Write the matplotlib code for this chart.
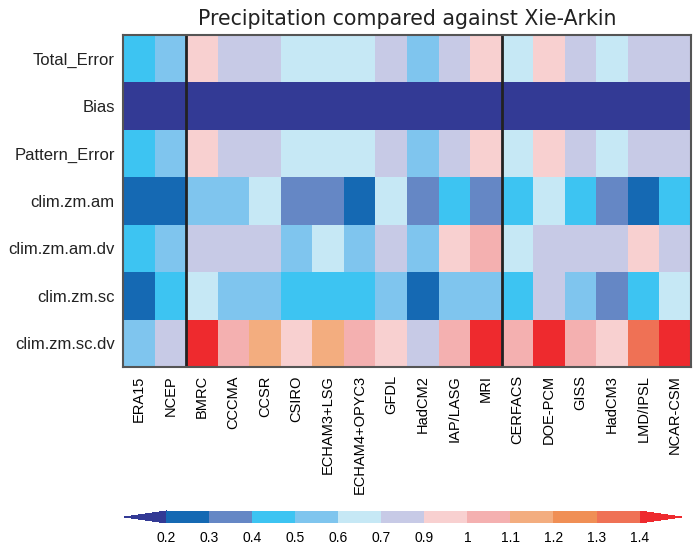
import numpy as np
import matplotlib
matplotlib.use("Agg")
import matplotlib.pyplot as plt
from matplotlib.colors import ListedColormap, BoundaryNorm
from matplotlib.colorbar import ColorbarBase

models = ["ERA15", "NCEP", "BMRC", "CCCMA", "CCSR", "CSIRO", "ECHAM3+LSG",
          "ECHAM4+OPYC3", "GFDL", "HadCM2", "IAP/LASG", "MRI", "CERFACS",
          "DOE-PCM", "GISS", "HadCM3", "LMD/IPSL", "NCAR-CSM"]
metrics = ["Total_Error", "Bias", "Pattern_Error", "clim.zm.am",
           "clim.zm.am.dv", "clim.zm.sc", "clim.zm.sc.dv"]

# values (one per colour bin)
total_error = [0.45, 0.55, 0.95, 0.8, 0.8, 0.65, 0.65, 0.65, 0.8, 0.55, 0.8, 0.95,
               0.65, 0.95, 0.8, 0.65, 0.8, 0.8]
bias = [0.15] * 18
pattern_error = [0.45, 0.55, 0.95, 0.8, 0.8, 0.65, 0.65, 0.65, 0.8, 0.55, 0.8, 0.95,
                 0.65, 0.95, 0.8, 0.65, 0.8, 0.8]
clim_zm_am = [0.25, 0.25, 0.55, 0.55, 0.65, 0.35, 0.35, 0.25, 0.65, 0.35, 0.45, 0.35,
              0.45, 0.65, 0.45, 0.35, 0.25, 0.45]
clim_zm_am_dv = [0.45, 0.55, 0.8, 0.8, 0.8, 0.55, 0.65, 0.55, 0.8, 0.55, 0.95, 1.05,
                 0.65, 0.8, 0.8, 0.8, 0.95, 0.8]
clim_zm_sc = [0.25, 0.45, 0.65, 0.55, 0.55, 0.45, 0.45, 0.45, 0.55, 0.25, 0.55, 0.55,
              0.45, 0.8, 0.55, 0.35, 0.45, 0.65]
clim_zm_sc_dv = [0.55, 0.8, 1.5, 1.05, 1.15, 0.95, 1.15, 1.05, 0.95, 0.8, 1.05, 1.5,
                 1.05, 1.5, 1.05, 0.95, 1.35, 1.5]

levels = [0.2, 0.3, 0.4, 0.5, 0.6, 0.7, 0.9, 1, 1.1, 1.2, 1.3, 1.4]
level_labels = ["0.2", "0.3", "0.4", "0.5", "0.6", "0.7", "0.9", "1", "1.1", "1.2", "1.3", "1.4"]
colors = ["#1569b3", "#6587c5", "#3dc4f2", "#7fc5ee", "#c6e8f5", "#c7cae6",
          "#f8d0d0", "#f4b0b0", "#f3ad7f", "#f08f55", "#ef7155"]
under_color = "#333a95"
over_color = "#ee2a2e"

data = np.array([total_error, bias, pattern_error, clim_zm_am,
                 clim_zm_am_dv, clim_zm_sc, clim_zm_sc_dv])

cmap = ListedColormap(colors)
cmap.set_under(under_color)
cmap.set_over(over_color)
norm = BoundaryNorm(levels, cmap.N)

plt.rcParams["font.family"] = ["Liberation Sans", "DejaVu Sans"]

fig = plt.figure(figsize=(6.97, 5.45), dpi=100)
ax = fig.add_axes([0.1765, 0.3266, 0.8149, 0.6092])
ax.pcolormesh(np.arange(len(models) + 1), np.arange(len(metrics) + 1), data,
              cmap=cmap, norm=norm)
ax.set_xlim(0, len(models))
ax.set_ylim(len(metrics), 0)

ax.set_xticks(np.arange(len(models)) + 0.5)
ax.set_xticklabels(models, rotation=90, fontsize=10.5)
ax.set_yticks(np.arange(len(metrics)) + 0.5)
ax.set_yticklabels(metrics, fontsize=12, color="#222222")
ax.tick_params(length=0, pad=6)

# group separators
for xs in [2, 12]:
    ax.axvline(xs, color="#222222", lw=2)
for s in ax.spines.values():
    s.set_color("#555555")
    s.set_linewidth(1.5)

ax.set_title("Precipitation compared against Xie-Arkin", fontsize=14.8,
             family="DejaVu Sans", color="#222222", pad=7)

cax = fig.add_axes([0.178, 0.0404, 0.8, 0.022])
cb = ColorbarBase(cax, cmap=cmap, norm=norm, boundaries=[0.1] + levels + [1.5],
                  extend="both", extendfrac=0.089, spacing="uniform",
                  orientation="horizontal", ticks=levels)
cb.set_ticklabels(level_labels)
cb.outline.set_visible(False)
cax.tick_params(length=0, labelsize=10, pad=6)

fig.savefig("out.png", dpi=100)
